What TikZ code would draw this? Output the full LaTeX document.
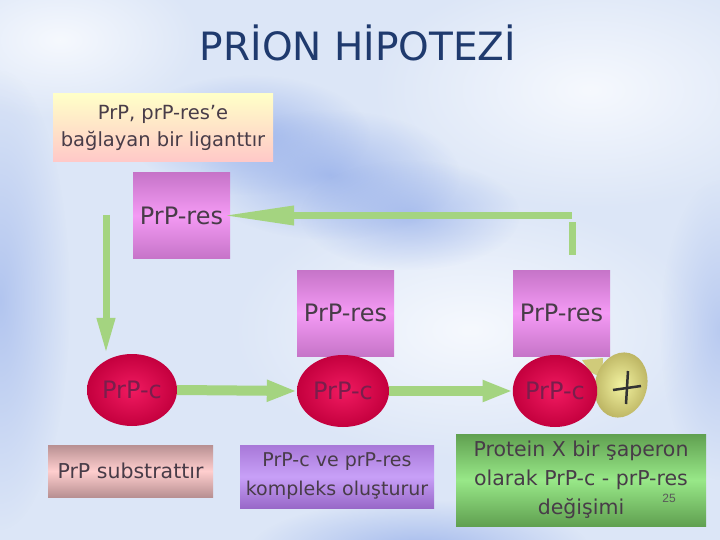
\documentclass[tikz,border=0pt]{standalone}
\usepackage{fontspec}
\setmainfont{DejaVu Sans}
\newfontfamily\numfont{Liberation Sans}
\usetikzlibrary{arrows.meta,shapes.geometric,fadings}

\definecolor{bgbase}{RGB}{220,230,247}
\definecolor{bgwhite}{RGB}{246,249,254}
\definecolor{bgblue}{RGB}{150,175,234}
\definecolor{titleblue}{RGB}{31,58,110}
\definecolor{inkgrey}{RGB}{72,60,72}
\definecolor{resdark}{RGB}{198,116,200}
\definecolor{reslight}{RGB}{244,154,244}
\definecolor{cballin}{RGB}{240,26,96}
\definecolor{cballout}{RGB}{196,0,62}
\definecolor{cballtext}{RGB}{122,30,76}
\definecolor{flowgreen}{RGB}{164,212,128}
\definecolor{blobin}{RGB}{242,242,160}
\definecolor{blobout}{RGB}{186,178,96}

\tikzfading[name=softblob,inner color=transparent!0,outer color=transparent!100]

\begin{document}
\begin{tikzpicture}[x=1pt,y=1pt,yscale=-1,xscale=1,
  resbox/.style={rectangle,minimum width=97pt,minimum height=86pt,
    top color=resdark,bottom color=resdark,middle color=reslight,
    text=inkgrey,font=\fontsize{24}{28}\selectfont},
  cball/.style={ellipse,minimum width=90pt,minimum height=72pt,inner sep=0pt,
    inner color=cballin,outer color=cballout,
    text=cballtext,font=\fontsize{24}{28}\selectfont},
  notebox/.style={rectangle,align=center,inner sep=2pt,text=inkgrey,
    font=\fontsize{20.5}{29}\selectfont},
  glow/.style={path fading=softblob},
  flow/.style={draw=flowgreen,line width=7pt},
  bigflow/.style={draw=flowgreen,line width=10pt}]
\useasboundingbox (0,0) rectangle (720,540);

%Background
\begin{scope}
\clip (0,0) rectangle (720,540);
\fill[bgbase] (0,0) rectangle (720,540);
\fill[bgwhite,glow] (590,90) ellipse (220 and 120);
\fill[bgwhite,glow] (470,330) ellipse (240 and 130);
\fill[bgwhite,glow] (60,40) ellipse (140 and 80);
\fill[bgblue,glow,opacity=.8] (250,135) ellipse (120 and 60);
\fill[bgblue,glow,opacity=.8] (330,175) ellipse (130 and 65);
\fill[bgblue,glow,opacity=.7] (410,215) ellipse (110 and 55);
\fill[bgblue,glow,opacity=.6] (0,300) ellipse (70 and 230);
\fill[bgblue,glow,opacity=.8] (420,550) ellipse (170 and 50);
\fill[bgblue,glow,opacity=.5] (720,330) ellipse (60 and 150);
\end{scope}

% Text Node
\node[text=titleblue,font=\fontsize{39}{44}\selectfont] (title) at (358,43) {PRİON HİPOTEZİ};

%Shape: Rectangle
\node[notebox,minimum width=220pt,minimum height=68pt,top color={rgb,255:red,255;green,255;blue,200},bottom color={rgb,255:red,255;green,200;blue,200},font=\fontsize{19.5}{27}\selectfont] (ligand) at (163,128) {PrP, prP-res’e\\bağlayan bir liganttır};

%Shape: Rectangle
\node[resbox] (res1) at (181.5,215.5) {PrP-res};
\node[resbox] (res2) at (345.5,313) {PrP-res};
\node[resbox] (res3) at (561.5,313) {PrP-res};

%Shape: Ellipse (protein X)
\fill[blobin!40!blobout] (582,360) -- (603,358) -- (602,378) -- (590,372) -- cycle;
\shade[rotate around={15:(621,385)},inner color=blobin,outer color=blobout] (621,385) ellipse (26 and 33);
\draw[line width=2.5pt,black!80] (628,371) -- (626,404);
\draw[line width=2.5pt,black!80] (613,390) -- (641,386);

%Shape: Ellipse
\node[cball] (c1) at (132,390) {PrP-c};
\node[cball,minimum width=92pt] (c2) at (343,391) {PrP-c};
\node[cball,minimum width=84pt] (c3) at (555,391) {PrP-c};

%Straight Lines
\coordinate (turn) at (572,215.5);
\coordinate (stubend) at (572,255);
\coordinate (drop) at (106,215);
\draw[flow] ([yshift=7pt]turn) -- (stubend);
\draw[flow,-{Triangle[length=72pt,width=18pt]},shorten >=-8pt] (turn) -- (turn -| res1.east);
\draw[flow,-{Triangle[length=36pt,width=17pt]}] (drop) -- (drop |- c1.north);
\draw[bigflow,-{Triangle[length=30pt,width=20pt]}] (c1.east) -- (c2.west);
\draw[bigflow,-{Triangle[length=30pt,width=20pt]}] (c2.east) -- (c3.west);

%Shape: Rectangle
\node[notebox,minimum width=165pt,minimum height=52pt,top color={rgb,255:red,184;green,144;blue,146},bottom color={rgb,255:red,184;green,144;blue,146},middle color={rgb,255:red,255;green,206;blue,206}] (substrate) at (130.5,471) {PrP substrattır};
\node[notebox,minimum width=194pt,minimum height=63pt,top color={rgb,255:red,168;green,120;blue,216},bottom color={rgb,255:red,152;green,104;blue,200},middle color={rgb,255:red,200;green,160;blue,248},font=\fontsize{19}{29}\selectfont] (complex) at (337,476.5) {PrP-c ve prP-res\\kompleks oluşturur};
\node[notebox,minimum width=250pt,minimum height=92pt,top color={rgb,255:red,96;green,160;blue,80},bottom color={rgb,255:red,96;green,160;blue,80},middle color={rgb,255:red,152;green,232;blue,136}] (chaperone) at (581,480) {Protein X bir şaperon\\olarak PrP-c - prP-res\\değişimi};

% Text Node
\node[text=black!65,font=\numfont\fontsize{12}{14}\selectfont] (pagenum) at (669,498) {25};

\end{tikzpicture}
\end{document}
